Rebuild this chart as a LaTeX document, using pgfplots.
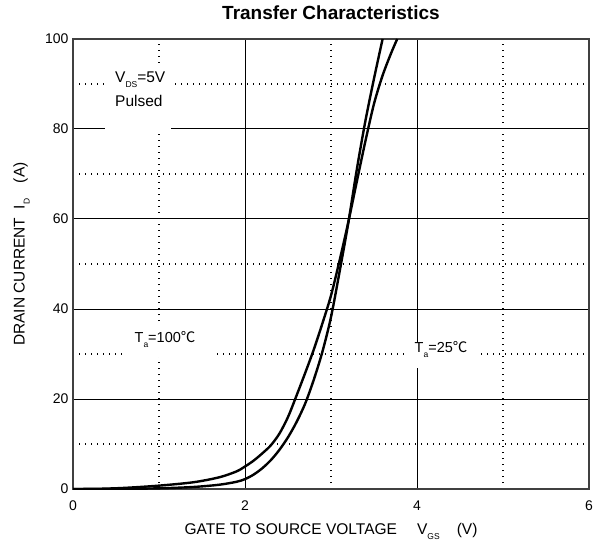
\documentclass[border=0pt]{standalone}
\usepackage{fontspec}
\setmainfont{Liberation Sans}
\newfontfamily\cjk{Noto Sans CJK SC}
\usepackage{pgfplots}
\pgfplotsset{compat=1.18}

% small lowered subscript as in the datasheet
\newcommand{\sub}[1]{\raisebox{-5pt}{\fontsize{8.5}{9}\selectfont #1}}
\newcommand{\degC}{{\cjk ℃}}

% T = 25 C
\pgfplotstableread{
x y
0.0 0.0
0.5 0.02
1.0 0.15
1.4 0.45
1.7 0.95
1.9 1.6
2.0 2.2
2.1 3.2
2.2 4.6
2.3 6.4
2.4 8.7
2.5 11.5
2.6 14.9
2.7 19.0
2.8 24.3
2.9 30.5
3.0 38.2
3.1 48.3
3.2 59.0
3.3 71.0
3.4 81.8
3.5 91.2
3.6 100.0
}\tcold

% T = 100 C
\pgfplotstableread{
x y
0.0 0.0
0.3 0.05
0.6 0.25
1.0 0.75
1.4 1.5
1.7 2.6
1.9 3.9
2.0 5.0
2.1 6.3
2.2 7.9
2.3 9.7
2.4 12.3
2.5 16.0
2.6 20.8
2.7 25.8
2.8 31.0
2.9 36.8
3.0 43.0
3.1 50.8
3.2 59.2
3.3 68.3
3.4 77.3
3.5 85.6
3.6 91.9
3.7 96.9
3.77 100.0
}\thot

\begin{document}
\begin{tikzpicture}
\begin{axis}[
    scale only axis, width=516pt, height=450pt,
    xmin=0, xmax=6, ymin=0, ymax=100,
    xtick={0,2,4,6}, ytick={0,20,...,100},
    minor xtick={1,3,5}, minor ytick={10,30,...,90},
    grid=both,
    major grid style={black, line width=1pt},
    minor grid style={black, line width=1.3pt, dash pattern=on 1.3pt off 4.7pt},
    axis line style={black!75, line width=1.2pt},
    major tick length=0pt, minor tick length=0pt,
    ticklabel style={font=\fontsize{14}{14}\selectfont},
    /pgf/number format/assume math mode=true,
    xticklabel style={yshift=-8pt},
    yticklabel style={xshift=-1pt},
    title={Transfer Characteristics},
    title style={at={(axis description cs:0.5,1.044)}, anchor=center,
        font=\bfseries\fontsize{19}{20}\selectfont},
    xlabel={GATE TO SOURCE VOLTAGE\hspace{1.3em}V\sub{GS}\hspace{1.1em}(V)},
    xlabel style={at={(axis description cs:0.5,-0.094)}, anchor=center,
        font=\fontsize{15.5}{16}\selectfont},
    ylabel={DRAIN CURRENT\hspace{0.55em}I\sub{D}\hspace{1.0em}(A)},
    ylabel style={at={(axis description cs:-0.1, 0.522)}, anchor=center,
        font=\fontsize{15.5}{16}\selectfont},
]
\addplot[black, line width=2.4pt, smooth] table {\tcold};
\addplot[black, line width=2.4pt, smooth] table {\thot};

% white boxes behind the notes
\fill[white] (axis cs:0.372,79.1) rectangle (axis cs:1.14,94.7);
\fill[white] (axis cs:0.581,29.3) rectangle (axis cs:1.628,36.4);
\fill[white] (axis cs:3.86,26.9) rectangle (axis cs:4.733,32.7);

\node[anchor=north west, inner sep=0pt, align=left,
      font=\fontsize{15.5}{24}\selectfont] at (axis cs:0.488,92.7)
      {V\sub{DS}=5V\\Pulsed};
\node[anchor=center, inner sep=0pt, font=\fontsize{14.5}{15}\selectfont]
      at (axis cs:1.07,33.3) {T\sub{a}=100\degC};
\node[anchor=center, inner sep=0pt, font=\fontsize{14.5}{15}\selectfont]
      at (axis cs:4.28,31.1) {T\sub{a}=25\degC};
\end{axis}
\path (current axis.south west) ++(-73pt,-57pt) rectangle
      ([shift={(9pt,39pt)}]current axis.north east);
\end{tikzpicture}
\end{document}
